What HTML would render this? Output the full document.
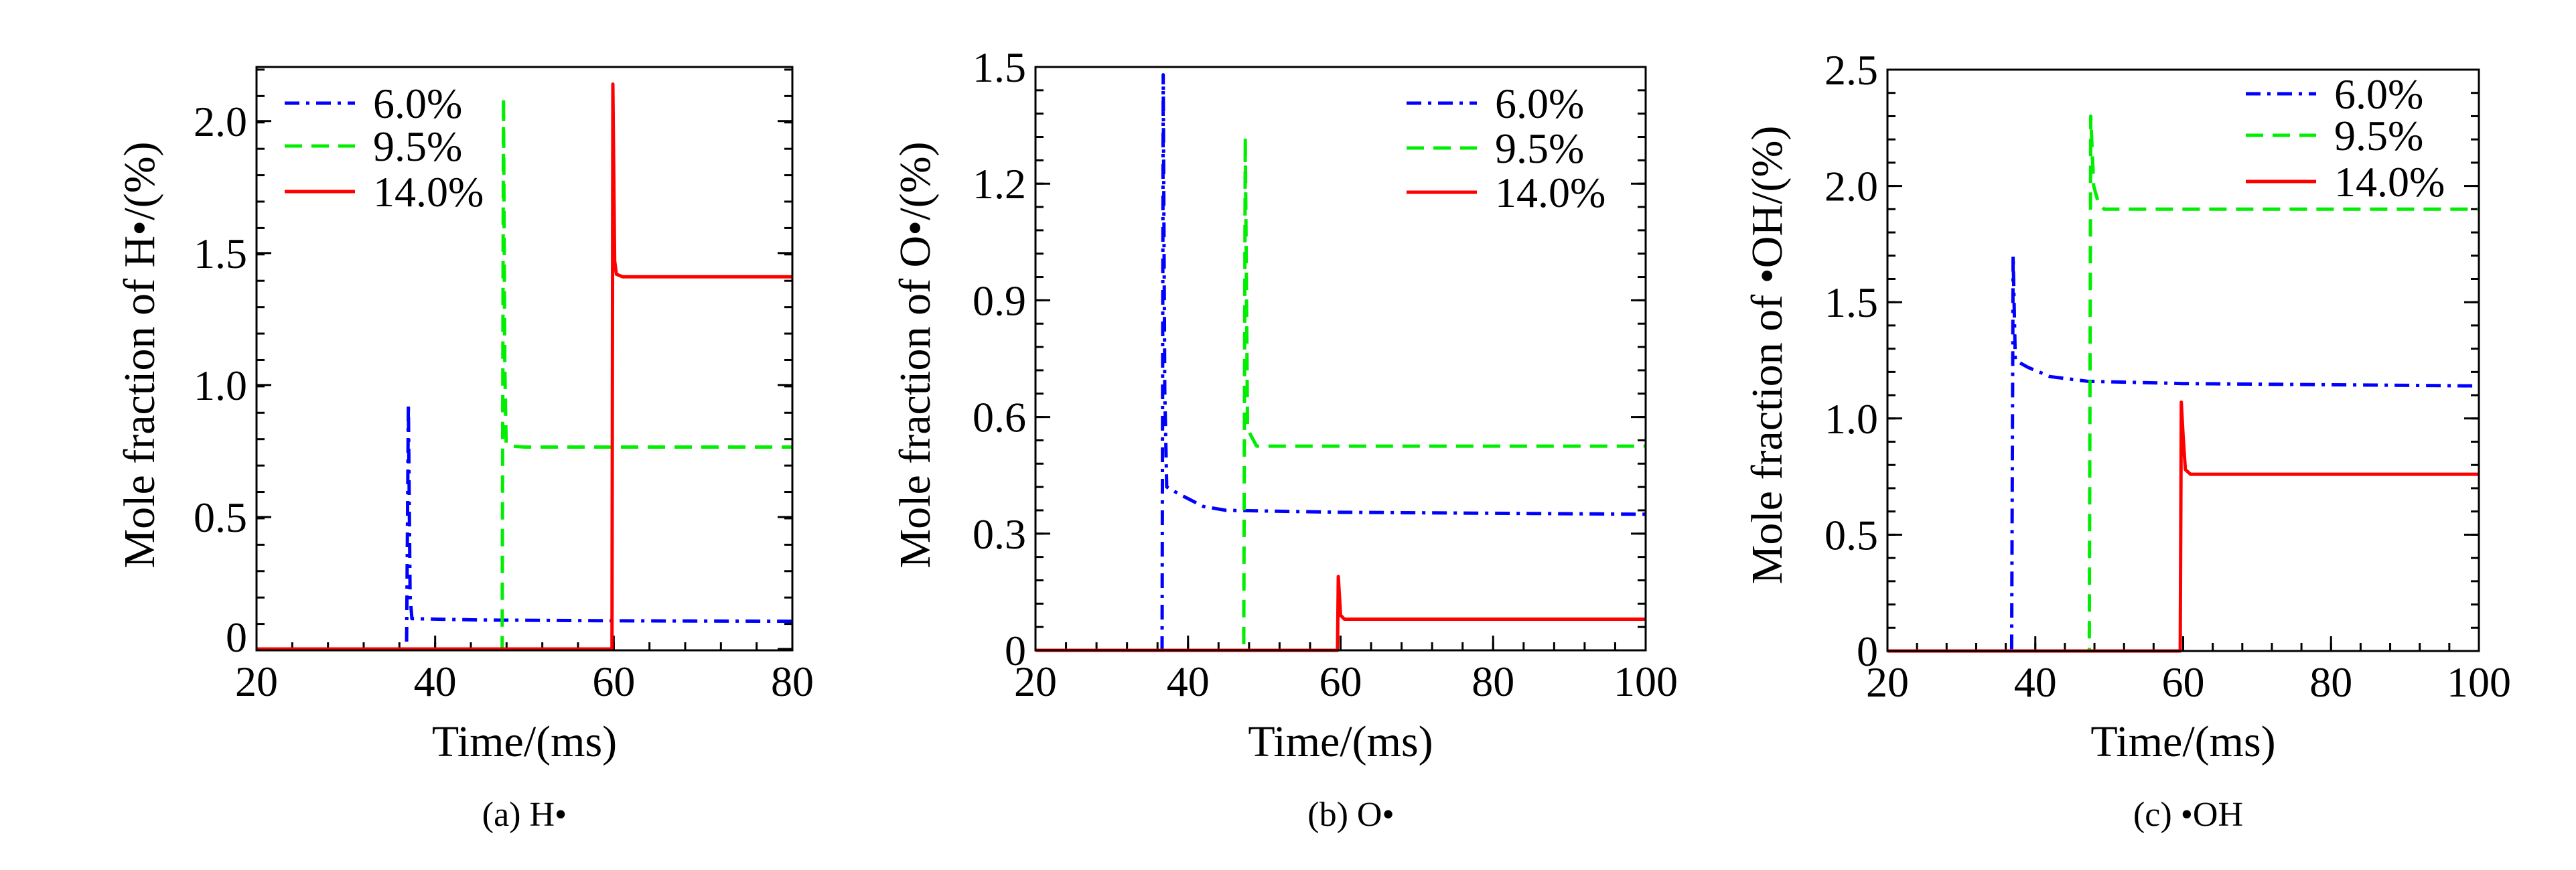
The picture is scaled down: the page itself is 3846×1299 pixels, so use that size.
<!DOCTYPE html>
<html><head><meta charset="utf-8"><style>
html,body{margin:0;padding:0;background:#fff;}
svg{display:block;}
svg text{font-family:"Liberation Serif","DejaVu Serif",serif;}
</style></head><body>
<svg id="chart" width="3846" height="1299" viewBox="0 0 3846 1299" xmlns="http://www.w3.org/2000/svg" font-family="Liberation Serif, DejaVu Serif, serif"></svg>
<script>
// ---- data (time ms, mole fraction %) ----
const seriesLabels = ["6.0%","9.5%","14.0%"];
const xTicksA = [20,40,60,80];
const xTicksBC = [20,40,60,80,100];
const yTicksA = [0,0.5,1.0,1.5,2.0];
const yTickLabelsA = ["0","0.5","1.0","1.5","2.0"];
const yTicksB = [0,0.3,0.6,0.9,1.2,1.5];
const yTickLabelsB = ["0","0.3","0.6","0.9","1.2","1.5"];
const yTicksC = [0,0.5,1.0,1.5,2.0,2.5];
const yTickLabelsC = ["0","0.5","1.0","1.5","2.0","2.5"];

const hT6 = [20,36.8,37.0,37.2,37.4,45,60,80];
const hV6 = [0,0,0.93,0.2,0.115,0.11,0.107,0.105];
const hT95 = [20,47.5,47.65,47.8,47.95,48.2,50,80];
const hV95 = [0,0,2.09,1.07,0.78,0.77,0.765,0.765];
const hT14 = [20,59.8,59.9,60.1,60.3,61,80];
const hV14 = [0,0,2.14,1.47,1.42,1.41,1.41];

const oT6 = [20,36.6,36.75,36.95,37.2,39,42,45,60,100];
const oV6 = [0,0,1.48,0.67,0.42,0.40,0.37,0.36,0.355,0.35];
const oT95 = [20,47.3,47.5,47.8,48.3,49,100];
const oV95 = [0,0,1.32,0.57,0.55,0.525,0.525];
const oT14 = [20,59.6,59.7,60.0,60.5,100];
const oV14 = [0,0,0.19,0.09,0.08,0.08];

const cT6 = [20,36.8,37.0,37.3,39,42,47,60,100];
const cV6 = [0,0,1.70,1.25,1.22,1.18,1.16,1.15,1.14];
const cT95 = [20,47.3,47.5,47.9,48.5,49.3,100];
const cV95 = [0,0,2.30,2.0,1.93,1.9,1.9];
const cT14 = [20,59.6,59.75,60.0,60.3,61,100];
const cV14 = [0,0,1.07,0.92,0.78,0.76,0.76];

const NS="http://www.w3.org/2000/svg";
const svg=document.getElementById('chart');
const FF='"Liberation Serif","DejaVu Serif",serif';
function mk(tag,attrs,parent){const e=document.createElementNS(NS,tag);for(const k in attrs)e.setAttribute(k,attrs[k]);if(tag==='text'){e.setAttribute('font-family',FF);e.style.fontFamily=FF;}(parent||svg).appendChild(e);return e;}
const colors=["#0000ff","#00ee00","#ff0000"];
const dashes=["22 10 5 10","26 14",""];

function panel(p){
  const g=mk('g',{});
  
  
  const X=v=>p.L+(v-p.xmin)/(p.xmax-p.xmin)*(p.R-p.L);
  const Y=v=>p.B-(v-p.ymin)/(p.ymax-p.ymin)*(p.B-p.T);
  for(let v=p.xmin;v<=p.xmax+1e-9;v+=p.xminor){
    const t=mk('line',{x1:X(v),x2:X(v),y1:p.B,y2:p.B-12,stroke:'#000','stroke-width':3},g);
    
  }
  for(let v=p.ymin;v<=p.ymax+1e-9;v+=p.yminor){
    const t=mk('line',{x1:p.L,x2:p.L+12,y1:Y(v),y2:Y(v),stroke:'#000','stroke-width':3},g);
    
    const t2=mk('line',{x1:p.R,x2:p.R-12,y1:Y(v),y2:Y(v),stroke:'#000','stroke-width':3},g);
    
  }
  p.xticks.forEach(v=>{
    const t=mk('line',{x1:X(v),x2:X(v),y1:p.B,y2:p.B-22,stroke:'#000','stroke-width':3},g);
    
    const tx=mk('text',{x:X(v),y:p.B+68,'font-size':64,'text-anchor':'middle'},g);
    tx.textContent=String(v);
    
  });
  p.yticks.forEach((v,i)=>{
    const t=mk('line',{x1:p.L,x2:p.L+22,y1:Y(v),y2:Y(v),stroke:'#000','stroke-width':3},g);
    
    const t2=mk('line',{x1:p.R,x2:p.R-22,y1:Y(v),y2:Y(v),stroke:'#000','stroke-width':3},g);
    
    let yy=Y(v)+22; if(v===0 && p.zeroUp) yy-=18;
    const tx=mk('text',{x:p.L-14,y:yy,'font-size':64,'text-anchor':'end'},g);
    tx.textContent=p.ylabels[i];
    
  });
  p.series.forEach((s,i)=>{
    const d=s[0].map((t,j)=>(j?'L':'M')+X(t).toFixed(1)+' '+Y(s[1][j]).toFixed(1)).join(' ');
    const a={d:d,fill:'none',stroke:colors[i],'stroke-width':5,'stroke-linejoin':'round'};
    if(dashes[i])a['stroke-dasharray']=dashes[i];
    const path=mk('path',a,g);
    
    
  });
  const fr=mk('rect',{x:p.L,y:p.T,width:p.R-p.L,height:p.B-p.T,fill:'none',stroke:'#000','stroke-width':3},g);
  
  p.legRows.forEach((ly,i)=>{
    const a={x1:p.legX,x2:p.legX+105,y1:ly,y2:ly,stroke:colors[i],'stroke-width':5};
    if(dashes[i])a['stroke-dasharray']=dashes[i];
    const ln=mk('line',a,g);
    
    const tx=mk('text',{x:p.legX+132,y:ly+22,'font-size':64},g);
    tx.textContent=seriesLabels[i];
    
  });
  const xt=mk('text',{x:(p.L+p.R)/2,y:1129,'font-size':66,'text-anchor':'middle'},g);
  xt.textContent='Time/(ms)';
  
  const yt=mk('text',{x:0,y:0,'font-size':66,'text-anchor':'middle',transform:`translate(${p.ytx},${p.yty}) rotate(-90)`},g);
  yt.textContent=p.ytitle;
  
  const cap=mk('text',{x:p.capX,y:1233,'font-size':52,'text-anchor':'middle'},g);
  cap.textContent=p.caption;
  
}

panel({id:'h',L:383,R:1183,T:100,B:971,xmin:20,xmax:80,ymin:-0.005,ymax:2.205,xminor:4,yminor:0.1,
  xticks:xTicksA,yticks:yTicksA,ylabels:yTickLabelsA,zeroUp:true,
  series:[[hT6,hV6],[hT95,hV95],[hT14,hV14]],legX:425,legRows:[154,218,286],
  ytitle:'Mole fraction of H\u2022/(%)',ytx:230,yty:530,caption:'(a) H\u2022',capX:783});
panel({id:'o',L:1546,R:2457,T:100,B:971,xmin:20,xmax:100,ymin:0,ymax:1.5,xminor:4,yminor:0.06,
  xticks:xTicksBC,yticks:yTicksB,ylabels:yTickLabelsB,
  series:[[oT6,oV6],[oT95,oV95],[oT14,oV14]],legX:2100,legRows:[154,221,287],
  ytitle:'Mole fraction of O\u2022/(%)',ytx:1388,yty:530,caption:'(b) O\u2022',capX:2017});
panel({id:'oh',L:2818,R:3701,T:104,B:972,xmin:20,xmax:100,ymin:0,ymax:2.5,xminor:4,yminor:0.1,
  xticks:xTicksBC,yticks:yTicksC,ylabels:yTickLabelsC,
  series:[[cT6,cV6],[cT95,cV95],[cT14,cV14]],legX:3353,legRows:[140,202,271],
  ytitle:'Mole fraction of \u2022OH/(%)',ytx:2660,yty:530,caption:'(c) \u2022OH',capX:3267});
</script>
</body></html>
